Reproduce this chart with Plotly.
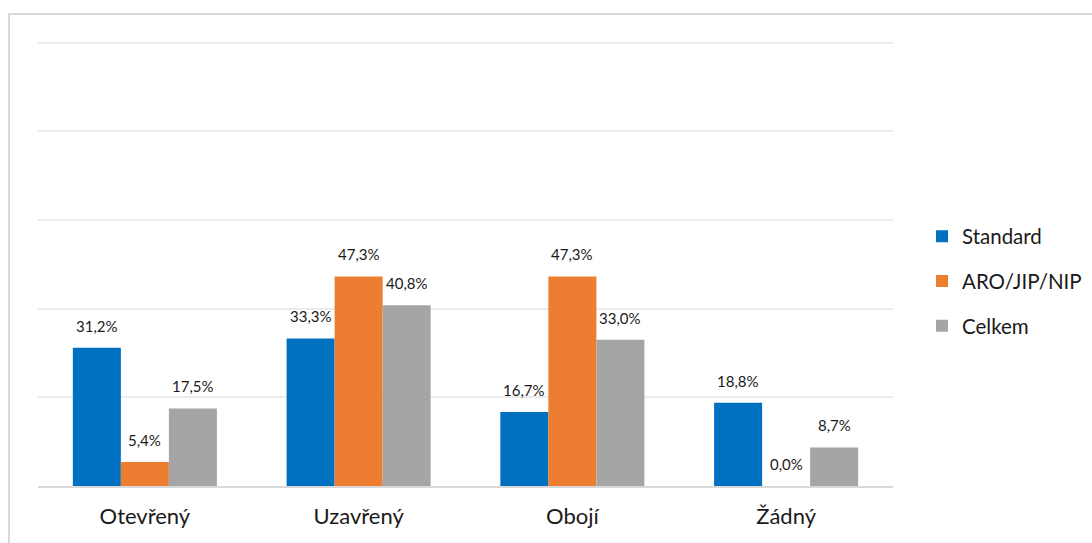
import plotly.graph_objects as go

categories = ["Otevřený", "Uzavřený", "Obojí", "Žádný"]
series_names = ["Standard", "ARO/JIP/NIP", "Celkem"]
standard = [31.2, 33.3, 16.7, 18.8]
aro = [5.4, 47.3, 47.3, 0.0]
celkem = [17.5, 40.8, 33.0, 8.7]
colors = ["#0070C0", "#ED7D31", "#A5A5A5"]

FONT = "Lato, Open Sans, sans-serif"
ML, MR, MT, MB = 38, 199, 34, 57
YMAX = 102
PLOT_W = 1092 - ML - MR
PLOT_H = 543 - MT - MB
BARGAP = 0.326
bar_px = PLOT_W / len(categories) * (1 - BARGAP) / len(series_names)

fig = go.Figure()
all_series = [standard, aro, celkem]
for i, (name, vals) in enumerate(zip(series_names, all_series)):
    fig.add_trace(go.Bar(
        name=name, x=categories, y=vals,
        marker=dict(color=colors[i], line=dict(width=0)),
        legendgroup=name,
    ))
    for c, v in zip(categories, vals):
        fig.add_annotation(
            x=c, y=v, xref="x", yref="y",
            text=f"{v:.1f}%".replace(".", ","),
            showarrow=False, xanchor="center", yanchor="middle",
            xshift=(i - 1) * bar_px, yshift=22,
            font=dict(size=15, color="#1a1a1a", family=FONT),
        )

fig.update_layout(
    width=1092, height=543,
    margin=dict(l=ML, r=MR, t=MT, b=MB, autoexpand=False),
    paper_bgcolor="white", plot_bgcolor="white",
    barmode="group", bargap=BARGAP, bargroupgap=0,
    font=dict(family=FONT, color="#1a1a1a"),
    showlegend=True,
    legend=dict(x=(922 - ML) / PLOT_W, xanchor="left",
                y=(543 - MB - 281) / PLOT_H, yanchor="middle",
                font=dict(size=20.5, family=FONT, color="#1a1a1a"),
                tracegroupgap=15, itemsizing="constant"),
    xaxis=dict(showline=True, linecolor="#d9d9d9", linewidth=2,
               showgrid=False, ticks="", tickfont=dict(size=22, family=FONT, color="#1a1a1a"),
               ticklabelstandoff=10),
    yaxis=dict(range=[0, YMAX], tickvals=[20, 40, 60, 80, 100], showticklabels=False, showgrid=True,
               gridcolor="#ececec", gridwidth=1.5, zeroline=False, ticks=""),
)

fig.add_shape(type="rect", xref="paper", yref="paper",
              x0=(9 - ML) / PLOT_W, x1=1.4, y0=-0.4, y1=(543 - MB - 14) / PLOT_H,
              line=dict(color="#d9d9d9", width=2), fillcolor="rgba(0,0,0,0)", layer="below")

fig.write_html("out.html", config={"displayModeBar": False},
               post_script="document.body.style.margin='0';document.body.style.overflow='hidden';")
